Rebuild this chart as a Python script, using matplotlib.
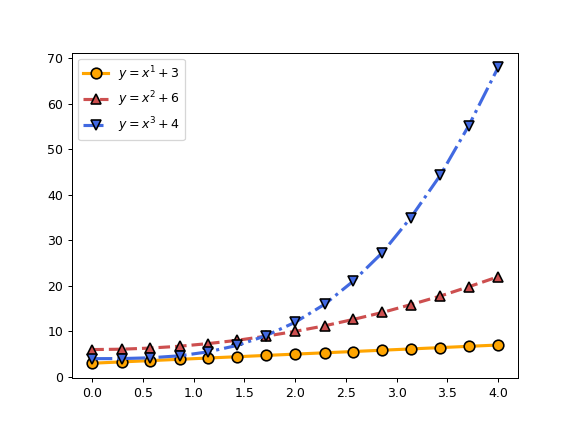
import matplotlib
matplotlib.use("Agg")
import matplotlib.pyplot as plt

# valeurs
x = [0.0, 0.29, 0.57, 0.86, 1.14, 1.43, 1.71, 2.0, 2.29, 2.57, 2.86, 3.14, 3.43, 3.71, 4.0]
y1 = [3.0, 3.29, 3.57, 3.86, 4.14, 4.43, 4.71, 5.0, 5.29, 5.57, 5.86, 6.14, 6.43, 6.71, 7.0]
y2 = [6.0, 6.08, 6.33, 6.73, 7.31, 8.04, 8.94, 10.0, 11.22, 12.61, 14.16, 15.88, 17.76, 19.8, 22.0]
y3 = [4.0, 4.02, 4.19, 4.63, 5.49, 6.92, 9.04, 12.0, 15.95, 21.0, 27.32, 35.02, 44.31, 55.19, 68.0]

fig, ax = plt.subplots(figsize=(6.4, 4.8), dpi=90)
fig.subplots_adjust(left=0.125, right=0.9, top=0.878, bottom=0.125)

ax.plot(x, y1, color="orange", linestyle="-", linewidth=2.5, marker="o",
        markersize=8.5, markeredgecolor="black", markeredgewidth=1.3,
        label=r"$y = x^1 + 3$")
ax.plot(x, y2, color="#cd4f4f", linestyle="--", linewidth=2.5, marker="^",
        markersize=8.5, markeredgecolor="black", markeredgewidth=1.3,
        label=r"$y = x^2 + 6$")
ax.plot(x, y3, color="royalblue", linestyle="-.", linewidth=2.5, marker="v",
        markersize=8.5, markeredgecolor="black", markeredgewidth=1.3,
        label=r"$y = x^3 + 4$")

ax.legend(loc="upper left")

fig.savefig("out.png", dpi=90)
